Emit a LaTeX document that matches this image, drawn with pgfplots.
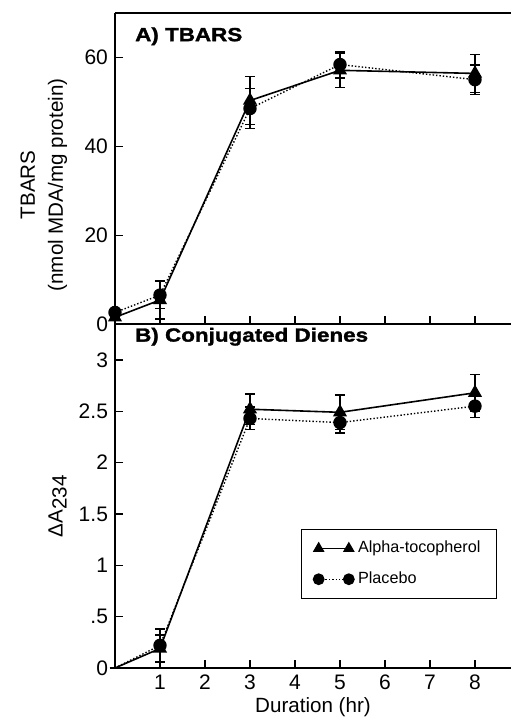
\documentclass[border=0pt]{standalone}
\usepackage{fontspec}
\setmainfont{Liberation Sans}
\newfontfamily\titlefont[FakeStretch=1.18, BoldFeatures={FakeBold=1.6}]{Liberation Sans}
\usepackage{pgfplots}
\pgfplotsset{compat=1.18}

\pgfplotsset{
  panel/.style={
    scale only axis, width=198pt, xmin=0, xmax=8.8,
    axis x line=box, axis y line=left, axis line style={-, line width=0.8pt},
    xtick={1,...,8}, xtick pos=left, ytick pos=left, tick align=inside,
    major tick length=4pt,
    tick style={black, line width=0.6pt},
    tick label style={font=\fontsize{10.5}{12}\selectfont},
    label style={font=\fontsize{10.3}{12}\selectfont},
    /pgf/number format/assume math mode=true,
    clip=false,
  },
  alpha/.style={black, solid, line width=0.8pt, mark=triangle*, mark size=3.3pt, mark options={solid}},
  placebo/.style={black, densely dotted, line width=0.7pt, mark=*, mark size=3pt, mark options={solid}},
  eb/.style={error bars/.cd, y dir=both, y explicit,
    error bar style={line width=0.7pt, solid},
    error mark options={rotate=90, mark size=2.5pt, line width=0.7pt, solid}},
  legend image code/.code={\draw[mark repeat=1, mark phase=1, #1, mark size=2.6pt] plot coordinates {(0cm,0cm) (0.53cm,0cm)};},
}

\begin{document}
\begin{tikzpicture}
\path[use as bounding box] (-57.5pt,-26pt) rectangle (198pt,334pt);

% B) conjugated dienes
\begin{axis}[panel,
  at={(0,0)}, anchor=south west, height=172pt,
  ymin=0, ymax=3.35,
  ytick={0,0.5,1,1.5,2,2.5,3},
  yticklabels={0,.5,1,1.5,2,2.5,3},
  xlabel={Duration (hr)},
  xlabel style={yshift=3pt},
  ylabel={ΔA\raisebox{-0.2em}{234}},
  ylabel style={at={(axis description cs:-0.145,0.47)}, anchor=center, align=center},
  legend style={at={(axis description cs:0.965,0.2)}, anchor=south east,
    draw=black, line width=0.6pt, font=\fontsize{8.1}{9}\selectfont,
    row sep=4pt, inner xsep=6pt, inner ysep=4pt},
  legend cell align=left,
]
\addplot[alpha, forget plot, mark indices={2,3,4,5}, eb] coordinates {
  (0,0) +- (0,0)
  (1,0.19) +- (0,0.13)
  (3,2.52) +- (0,0.15)
  (5,2.49) +- (0,0.17)
  (8,2.68) +- (0,0.18)
};
\addplot[placebo, forget plot, mark indices={2,3,4,5}, eb] coordinates {
  (0,0) +- (0,0)
  (1,0.22) +- (0,0.16)
  (3,2.43) +- (0,0.11)
  (5,2.39) +- (0,0.10)
  (8,2.55) +- (0,0.11)
};
\addlegendimage{alpha}
\addlegendentry{Alpha-tocopherol}
\addlegendimage{placebo}
\addlegendentry{Placebo}
\node[anchor=north west, font=\titlefont\bfseries\fontsize{9.5}{11}\selectfont, inner sep=0pt]
  at (axis description cs:0.05,0.99) {B) Conjugated Dienes};
\end{axis}

% A) TBARS
\begin{axis}[panel,
  at={(0,172pt)}, anchor=south west, height=155.5pt,
  ymin=0, ymax=70,
  ytick={0,20,40,60},
  xticklabels=\empty,
  ylabel={TBARS\\[2pt](nmol MDA/mg protein)},
  ylabel style={at={(axis description cs:-0.18,0.447)}, anchor=center, align=center},
]
\addplot[alpha, eb] coordinates {
  (0,1.5) +- (0,0)
  (1,5.4) +- (0,4.3)
  (3,50.3) +- (0,5.4)
  (5,57.1) +- (0,3.9)
  (8,56.4) +- (0,4.3)
};
\addplot[placebo, eb] coordinates {
  (0,2.6) +- (0,0)
  (1,6.5) +- (0,3.0)
  (3,48.5) +- (0,4.5)
  (5,58.4) +- (0,3.0)
  (8,55.0) +- (0,3.3)
};
\node[anchor=north west, font=\titlefont\bfseries\fontsize{9.5}{11}\selectfont, inner sep=0pt]
  at (axis description cs:0.05,0.955) {A) TBARS};
\end{axis}
\end{tikzpicture}
\end{document}
